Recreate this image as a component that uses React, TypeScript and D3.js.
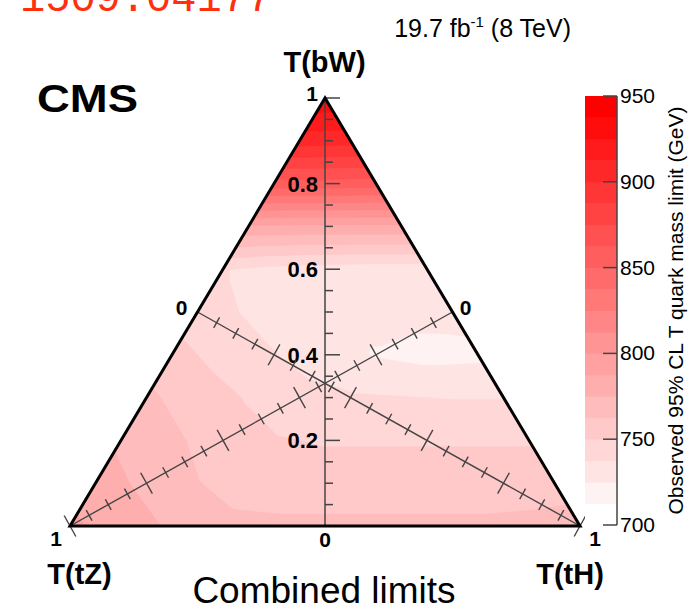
import { useMemo } from "react";
import * as d3 from "d3";

const width = 697;
const height = 615;
const font = "'Liberation Sans', Arial, Helvetica, sans-serif";

// observed 95% CL limit (GeV) on a 0.1 grid of branching fractions
// one row per BR(bW) = 0.0 ... 1.0, entries run over BR(tH) = 0 ... 1 - BR(bW)
const limitsBw00 = [790, 782, 773, 766, 765, 765, 765, 765, 765, 766, 768];
const limitsBw01 = [781, 772, 763, 757, 756, 756, 756, 756, 756, 757];
const limitsBw02 = [773, 765, 756, 751, 749, 749, 749, 749, 749];
const limitsBw03 = [765, 756, 749, 742, 739, 738, 737, 737];
const limitsBw04 = [754, 746, 738, 731, 724, 721, 722];
const limitsBw05 = [744, 736, 731, 729, 729, 729];
const limitsBw06 = [738, 734, 732, 731, 731];
const limitsBw07 = [786, 785, 785, 785];
const limitsBw08 = [858, 858, 857];
const limitsBw09 = [906, 905];
const limitsBw10 = [935];
const limitGrid = [
  limitsBw00, limitsBw01, limitsBw02, limitsBw03, limitsBw04, limitsBw05,
  limitsBw06, limitsBw07, limitsBw08, limitsBw09, limitsBw10,
];

const contourLevels = d3.range(20).map((k) => 700 + 12.5 * k);
const colorbarTicks = [700, 750, 800, 850, 900, 950];
const bwTickLabels = [0.2, 0.4, 0.6, 0.8];

// ternary frame: bW up, tZ bottom-left, tH bottom-right
const bwScale = d3.scaleLinear().domain([0, 1]).range([526, 98]);
const hzScale = d3.scaleLinear().domain([-1, 1]).range([70, 580]); // BR(tH) - BR(tZ) -> x
const toXY = (b: number, h: number, z: number): [number, number] => [hzScale(h - z), bwScale(b)];

const apex = toXY(1, 0, 0);
const vTZ = toXY(0, 0, 1);
const vTH = toXY(0, 1, 0);
const midRight = toXY(0.5, 0.5, 0);
const midLeft = toXY(0.5, 0, 0.5);

const cbScale = d3.scaleLinear().domain([700, 950]).range([525, 96]);
const bandColor = (k: number) => d3.interpolateRgb("#ffffff", "#ff0000")(k / 19);

function limitAt(b: number, h: number) {
  const gi = b * 10;
  const gj = h * 10;
  const i0 = Math.min(Math.floor(gi), 9);
  const j0 = Math.max(0, Math.min(Math.floor(gj), 9 - i0));
  const fi = gi - i0;
  const fj = gj - j0;
  const v = (i: number, j: number) => limitGrid[i][j];
  if (fi + fj <= 1 || i0 + j0 + 2 > 10) {
    return v(i0, j0) + fi * (v(i0 + 1, j0) - v(i0, j0)) + fj * (v(i0, j0 + 1) - v(i0, j0));
  }
  const v11 = v(i0 + 1, j0 + 1);
  return v11 + (1 - fi) * (v(i0, j0 + 1) - v11) + (1 - fj) * (v(i0 + 1, j0) - v11);
}

function medianTicks(from: [number, number], to: [number, number]) {
  const dx = to[0] - from[0];
  const dy = to[1] - from[1];
  const len = Math.hypot(dx, dy);
  const nx = -dy / len;
  const ny = dx / len;
  return d3.range(1, 21).map((n) => {
    const t = n / 20;
    const major = n % 4 === 0;
    const half = major ? 12 : 6;
    const px = from[0] + t * dx;
    const py = from[1] + t * dy;
    return { key: n, x1: px - nx * half, y1: py - ny * half, x2: px + nx * half, y2: py + ny * half };
  });
}

const App = () => {
  const bands = useMemo(() => {
    const step = 2;
    const x0 = 62;
    const y0 = 90;
    const nx = Math.ceil((590 - x0) / step) + 1;
    const ny = Math.ceil((534 - y0) / step) + 1;
    const values = new Float64Array(nx * ny);
    for (let j = 0; j < ny; j++) {
      for (let i = 0; i < nx; i++) {
        const b = Math.max(0, Math.min(1, bwScale.invert(y0 + j * step)));
        const s = 1 - b;
        const d = Math.max(-s, Math.min(s, hzScale.invert(x0 + i * step)));
        values[j * nx + i] = limitAt(b, (s + d) / 2);
      }
    }
    const path = d3.geoPath(d3.geoIdentity().scale(step).translate([x0 - step / 2, y0 - step / 2]));
    return d3.contours().size([nx, ny]).thresholds(contourLevels)(Array.from(values))
      .map((c, k) => ({ d: path(c as any) || "", fill: bandColor(k) }));
  }, []);

  const triPath = `M${apex}L${vTZ}L${vTH}Z`;
  const tzTicks = medianTicks(midRight, vTZ);
  const thTicks = medianTicks(midLeft, vTH);

  return (
    <div style={{ position: "absolute", left: 0, top: 0 }}>
      <svg width={width} height={height} style={{ display: "block", background: "#fff", fontFamily: font }}>
        <defs>
          <clipPath id="tri">
            <path d={triPath} />
          </clipPath>
        </defs>

        <text x={20} y={11} fill="#ff3010" fontFamily="'Liberation Mono', 'Courier New', monospace" fontSize={42}>1509.04177</text>
        <text x={571} y={37} textAnchor="end" fontSize={25}>
          19.7 fb<tspan dy={-10} fontSize={15}>-1</tspan><tspan dy={10}> (8 TeV)</tspan>
        </text>
        <text x={37} y={112} fontSize={38} fontWeight="bold" textLength={101} lengthAdjust="spacingAndGlyphs">CMS</text>

        <g clipPath="url(#tri)">
          {bands.map((b, k) => <path key={k} d={b.d} fill={b.fill} stroke={b.fill} strokeWidth={0.3} />)}
        </g>

        {/* BR(bW) axis */}
        <line x1={apex[0]} y1={apex[1]} x2={apex[0]} y2={vTZ[1]} stroke="#444" strokeWidth={1.5} />
        {d3.range(0, 21).map((n) => {
          const y = bwScale(n / 20);
          return <line key={n} x1={apex[0]} x2={apex[0] + (n % 4 === 0 ? 15 : 8)} y1={y} y2={y} stroke="#444" strokeWidth={1.5} />;
        })}
        {bwTickLabels.map((t) => (
          <text key={t} x={318} y={bwScale(t) + 8} textAnchor="end" fontSize={22} fontWeight="bold">{t.toFixed(1)}</text>
        ))}
        <text x={318} y={apex[1] + 3} textAnchor="end" fontSize={21} fontWeight="bold">1</text>
        <text x={apex[0]} y={547} textAnchor="middle" fontSize={21} fontWeight="bold">0</text>

        {/* medians */}
        <line x1={midRight[0]} y1={midRight[1]} x2={vTZ[0]} y2={vTZ[1]} stroke="#444" strokeWidth={1.4} />
        <line x1={midLeft[0]} y1={midLeft[1]} x2={vTH[0]} y2={vTH[1]} stroke="#444" strokeWidth={1.4} />
        {[...tzTicks.map((t) => ({ ...t, key: "z" + t.key })), ...thTicks.map((t) => ({ ...t, key: "h" + t.key }))].map((t) => (
          <line key={t.key} x1={t.x1} y1={t.y1} x2={t.x2} y2={t.y2} stroke="#444" strokeWidth={1.4} />
        ))}

        <path d={triPath} fill="none" stroke="#000" strokeWidth={3} strokeLinejoin="miter" />

        <text x={midLeft[0] - 16} y={midLeft[1] + 3} textAnchor="middle" fontSize={21} fontWeight="bold">0</text>
        <text x={midRight[0] + 13} y={midRight[1] + 3} textAnchor="middle" fontSize={21} fontWeight="bold">0</text>
        <text x={vTZ[0] - 14} y={546} textAnchor="middle" fontSize={21} fontWeight="bold">1</text>
        <text x={vTH[0] + 15} y={546} textAnchor="middle" fontSize={21} fontWeight="bold">1</text>

        <text x={324.5} y={72} textAnchor="middle" fontSize={29} fontWeight="bold">T(bW)</text>
        <text x={79.5} y={584} textAnchor="middle" fontSize={29} fontWeight="bold">T(tZ)</text>
        <text x={570} y={584} textAnchor="middle" fontSize={29} fontWeight="bold">T(tH)</text>
        <text x={324} y={603} textAnchor="middle" fontSize={37}>Combined limits</text>

        {/* colour bar */}
        {contourLevels.map((lv, k) => (
          <rect key={lv} x={585} width={32} y={cbScale(lv + 12.5)} height={cbScale(lv) - cbScale(lv + 12.5) + 0.5} fill={bandColor(k)} />
        ))}
        <line x1={617} x2={617} y1={cbScale(700)} y2={cbScale(950)} stroke="#444" strokeWidth={1.5} />
        {colorbarTicks.map((t) => (
          <g key={t}>
            <line x1={603} x2={617} y1={cbScale(t)} y2={cbScale(t)} stroke="#444" strokeWidth={1.5} />
            <text x={620} y={cbScale(t) + 7} fontSize={21}>{t}</text>
          </g>
        ))}
        <text transform={`translate(683,${(cbScale(700) + cbScale(950)) / 2}) rotate(-90)`} textAnchor="middle" fontSize={21}>
          Observed 95% CL T quark mass limit (GeV)
        </text>
      </svg>
    </div>
  );
};

export default App;
